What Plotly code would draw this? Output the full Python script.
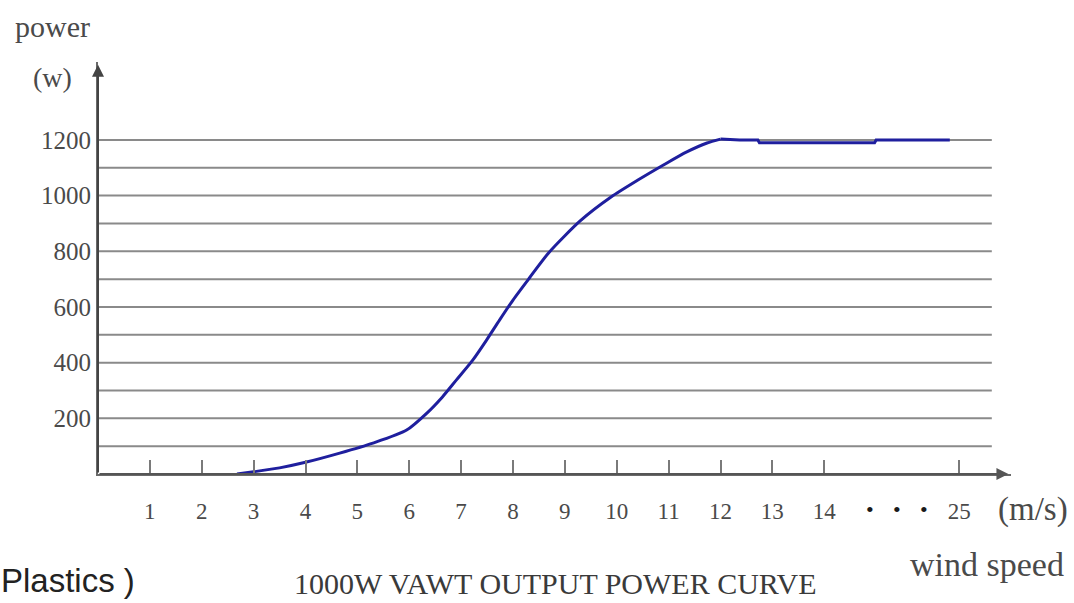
import plotly.graph_objects as go

# ---- data (x in axis-position units; "25" sits at position 16.6 after the "..." gap) ----
wind_pos = [2.68, 3.0, 3.5, 4.0, 4.66, 5.3, 5.95, 6.34, 6.64, 6.91, 7.22, 7.49, 7.74, 8.0,
            8.32, 8.69, 9.3, 9.89, 10.4, 10.9, 11.35, 11.74, 12.0,
            12.37, 12.72, 12.75, 14.97, 15.0, 16.42]
power_w = [0, 8, 22, 42, 75, 111, 158, 219, 277, 338, 408, 481, 553, 625,
           705, 795, 910, 995, 1055, 1110, 1157, 1189, 1203,
           1200, 1200, 1190, 1190, 1200, 1200]
RATED_IDX = 22  # index where the flat (rated) part begins

tick_pos = [1, 2, 3, 4, 5, 6, 7, 8, 9, 10, 11, 12, 13, 14, 16.6]
tick_text = ["1", "2", "3", "4", "5", "6", "7", "8", "9", "10", "11", "12", "13", "14", "25"]
y_tick_vals = [200, 400, 600, 800, 1000, 1200]
grid_vals = [100, 200, 300, 400, 500, 600, 700, 800, 900, 1000, 1100, 1200]

X_RANGE = [0, 17.6]
Y_RANGE = [0, 1480]
GRID_END = 17.23

W, H = 1074, 603
L, R, T, B = 98, 63, 62, 129
PW, PH = W - L - R, H - T - B

def px(xp):
    return (xp - L) / PW

def py(yp):
    return (H - B - yp) / PH

SERIF = "Liberation Serif, Times New Roman, serif"
TXT = "#4a4a4a"
CURVE = dict(color="#1f1f9e", width=3)

fig = go.Figure()
fig.add_trace(go.Scatter(x=wind_pos[:RATED_IDX + 1], y=power_w[:RATED_IDX + 1], mode="lines",
                         line=dict(**CURVE, shape="spline", smoothing=0.7),
                         hoverinfo="skip", showlegend=False))
fig.add_trace(go.Scatter(x=wind_pos[RATED_IDX:], y=power_w[RATED_IDX:], mode="lines",
                         line=CURVE, hoverinfo="skip", showlegend=False))

shapes = []
for v in grid_vals:
    shapes.append(dict(type="line", xref="x", yref="y", x0=0, x1=GRID_END, y0=v, y1=v,
                       line=dict(color="#8a8a8a", width=2), layer="below"))

def label(xp, yp, text, size, family=SERIF, color=TXT, xanchor="center"):
    return dict(x=px(xp), y=py(yp), xref="paper", yref="paper", text=text, showarrow=False,
                xanchor=xanchor, yanchor="middle", font=dict(family=family, size=size, color=color))

annotations = [
    # axis arrows
    dict(x=17.55, y=0, ax=0, ay=0, xref="x", yref="y", axref="x", ayref="y",
         showarrow=True, arrowhead=2, arrowsize=1.2, arrowwidth=2, arrowcolor="#555", text=""),
    dict(x=0, y=1470, ax=0, ay=0, xref="x", yref="y", axref="x", ayref="y",
         showarrow=True, arrowhead=2, arrowsize=1.2, arrowwidth=2, arrowcolor="#444", text=""),
    label(52, 26, "power", 30),
    label(52, 77, "(w)", 28),
    label(870, 509, "•", 22, color="#1a1a1a"),
    label(897, 509, "•", 22, color="#1a1a1a"),
    label(924, 509, "•", 22, color="#1a1a1a"),
    label(1033, 509, "(m/s)", 33),
    label(987, 564, "wind speed", 34),
    label(555, 583, "1000W VAWT OUTPUT POWER CURVE", 30, color="#3a3a3a"),
    label(137, 580, "Plastics )", 33, family="Liberation Sans, Arial, sans-serif",
          color="#222", xanchor="right"),
]

fig.update_layout(
    width=W, height=H,
    margin=dict(l=L, r=R, t=T, b=B, pad=0),
    paper_bgcolor="white", plot_bgcolor="white",
    shapes=shapes, annotations=annotations,
    xaxis=dict(range=X_RANGE, showgrid=False, zeroline=False, showline=True,
               linecolor="#6a6a6a", linewidth=2,
               tickmode="array", tickvals=tick_pos, ticktext=tick_text,
               ticks="inside", ticklen=14, tickwidth=2, tickcolor="#7a7a7a",
               ticklabelstandoff=15,
               tickfont=dict(family=SERIF, size=23, color=TXT), fixedrange=True),
    yaxis=dict(range=Y_RANGE, showgrid=False, zeroline=False, showline=True,
               linecolor="#6a6a6a", linewidth=2,
               tickmode="array", tickvals=y_tick_vals, ticks="",
               tickfont=dict(family=SERIF, size=25, color=TXT), fixedrange=True),
)

fig.write_html("out.html", config={"displayModeBar": False},
               post_script="document.body.style.margin='0';document.body.style.padding='0';")
